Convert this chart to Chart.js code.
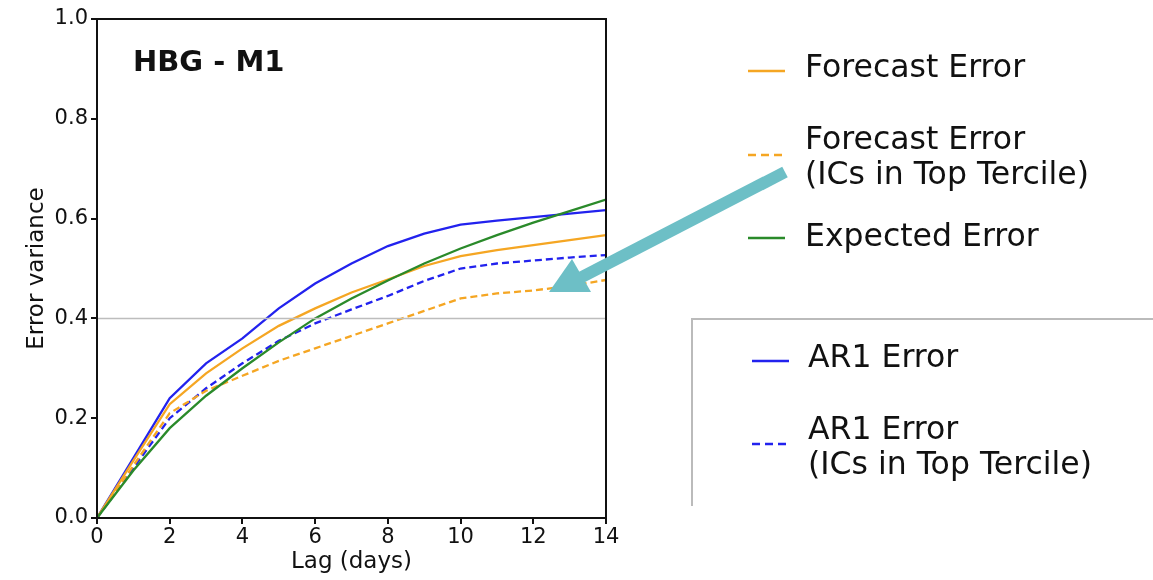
<!DOCTYPE html>
<html>
<head>
<meta charset="utf-8">
<script src="https://cdn.jsdelivr.net/npm/chart.js@4"></script>
<style>
  body { margin: 0; background: #fff; }
  #wrap { position: relative; width: 1153px; height: 580px; font-family: "DejaVu Sans", sans-serif; }
  #chart { position: absolute; left: 0; top: 0; }
  #overlay { position: absolute; left: 0; top: 0; pointer-events: none; }
  .lbl { position: absolute; font-size: 31.5px; line-height: 35px; color: #111; white-space: nowrap; }
  #legbox { position: absolute; left: 691px; top: 318px; width: 460px; height: 186px;
            border-top: 2px solid #bbb; border-left: 2px solid #bbb; }
</style>
</head>
<body>
<div id="wrap">
  <canvas id="chart" width="1153" height="580"></canvas>
  <div id="legbox"></div>
  <svg id="overlay" width="1153" height="580">
    <line x1="748" y1="71" x2="785" y2="71" stroke="#f5a623" stroke-width="2.5"/>
    <line x1="748" y1="155" x2="787" y2="155" stroke="#f5a623" stroke-width="2.5" stroke-dasharray="8,5"/>
    <line x1="748" y1="238" x2="785" y2="238" stroke="#2a8a2a" stroke-width="2.5"/>
    <line x1="752" y1="361" x2="789" y2="361" stroke="#2222ee" stroke-width="2.5"/>
    <line x1="752" y1="444" x2="791" y2="444" stroke="#2222ee" stroke-width="2.5" stroke-dasharray="8,5"/>
    <line x1="785" y1="172" x2="578" y2="279" stroke="#6dbfc6" stroke-width="12"/>
    <polygon points="549,292 572,259 591,292" fill="#6dbfc6"/>
  </svg>
  <div class="lbl" style="left:805px; top:49px;">Forecast Error</div>
  <div class="lbl" style="left:805px; top:121px;">Forecast Error<br>(ICs in Top Tercile)</div>
  <div class="lbl" style="left:805px; top:218px;">Expected Error</div>
  <div class="lbl" style="left:808px; top:339px;">AR1 Error</div>
  <div class="lbl" style="left:808px; top:411px;">AR1 Error<br>(ICs in Top Tercile)</div>
</div>
<script>
// values, one per lag day
const lags = [0, 1, 2, 3, 4, 5, 6, 7, 8, 9, 10, 11, 12, 13, 14];
const forecastErr = [0, 0.115, 0.228, 0.29, 0.34, 0.385, 0.42, 0.452, 0.478, 0.505, 0.525, 0.537, 0.547, 0.557, 0.567];
const forecastTop = [0, 0.105, 0.21, 0.255, 0.285, 0.315, 0.34, 0.365, 0.39, 0.415, 0.44, 0.45, 0.456, 0.465, 0.477];
const expectedErr = [0, 0.095, 0.18, 0.245, 0.30, 0.352, 0.40, 0.44, 0.476, 0.51, 0.54, 0.567, 0.592, 0.615, 0.638];
const ar1Err = [0, 0.12, 0.24, 0.31, 0.36, 0.42, 0.47, 0.51, 0.545, 0.57, 0.588, 0.596, 0.603, 0.61, 0.617];
const ar1Top = [0, 0.10, 0.20, 0.26, 0.31, 0.355, 0.39, 0.418, 0.445, 0.475, 0.50, 0.51, 0.516, 0.522, 0.527];
const refLine = [0.4, 0.4];
const refLags = [0, 14];

const yTicks = [0, 0.2, 0.4, 0.6, 0.8, 1.0];

function pts(xs, ys) {
  return xs.map((x, i) => ({ x: x, y: ys[i] }));
}

function line(label, values, color, dashed) {
  return {
    label: label,
    data: pts(lags, values),
    borderColor: color,
    borderWidth: 2.3,
    borderDash: dashed ? [7, 4] : [],
    pointRadius: 0,
    tension: 0
  };
}

// box around the plot like matplotlib's spines, plus the panel title
const frame = {
  id: 'frame',
  afterDraw(chart) {
    const a = chart.chartArea, ctx = chart.ctx;
    ctx.save();
    ctx.strokeStyle = '#111';
    ctx.lineWidth = 2;
    ctx.strokeRect(a.left, a.top, a.right - a.left, a.bottom - a.top);
    ctx.fillStyle = '#111';
    ctx.font = 'bold 29px "DejaVu Sans"';
    ctx.textBaseline = 'alphabetic';
    ctx.fillText('HBG - M1', 133, 71);
    ctx.restore();
  }
};

const tickFont = { family: 'DejaVu Sans', size: 21 };
const titleFont = { family: 'DejaVu Sans', size: 23 };

new Chart(document.getElementById('chart'), {
  type: 'line',
  data: {
    datasets: [
      { label: 'ref', data: pts(refLags, refLine), borderColor: '#bdbdbd', borderWidth: 1.5, pointRadius: 0 },
      line('Expected Error', expectedErr, '#2a8a2a', false),
      line('Forecast Error (ICs in Top Tercile)', forecastTop, '#f5a623', true),
      line('Forecast Error', forecastErr, '#f5a623', false),
      line('AR1 Error (ICs in Top Tercile)', ar1Top, '#2222ee', true),
      line('AR1 Error', ar1Err, '#2222ee', false)
    ]
  },
  options: {
    responsive: false,
    animation: false,
    layout: { padding: { top: 19, right: 547, left: 19, bottom: 0 } },
    plugins: { legend: { display: false }, tooltip: { enabled: false } },
    scales: {
      x: {
        type: 'linear', min: 0, max: 14,
        afterFit: (s) => { s.height = 62; },
        ticks: { stepSize: 2, font: tickFont, color: '#111', padding: 1, maxRotation: 0 },
        grid: { drawOnChartArea: false, drawTicks: true, tickLength: 6, color: '#111', lineWidth: 2 },
        border: { display: true, color: '#111', width: 2 },
        title: { display: true, text: 'Lag (days)', font: titleFont, color: '#111', padding: { top: 4 } }
      },
      y: {
        min: 0, max: 1,
        afterFit: (s) => { s.width = 78; },
        afterBuildTicks: (s) => { s.ticks = yTicks.map(v => ({ value: v })); },
        ticks: { font: tickFont, color: '#111', padding: 3, callback: (v) => v.toFixed(1) },
        grid: { drawOnChartArea: false, drawTicks: true, tickLength: 6, color: '#111', lineWidth: 2 },
        border: { display: true, color: '#111', width: 2 },
        title: { display: true, text: 'Error variance', font: titleFont, color: '#111', padding: { bottom: 0 } }
      }
    }
  },
  plugins: [frame]
});
</script>
</body>
</html>
